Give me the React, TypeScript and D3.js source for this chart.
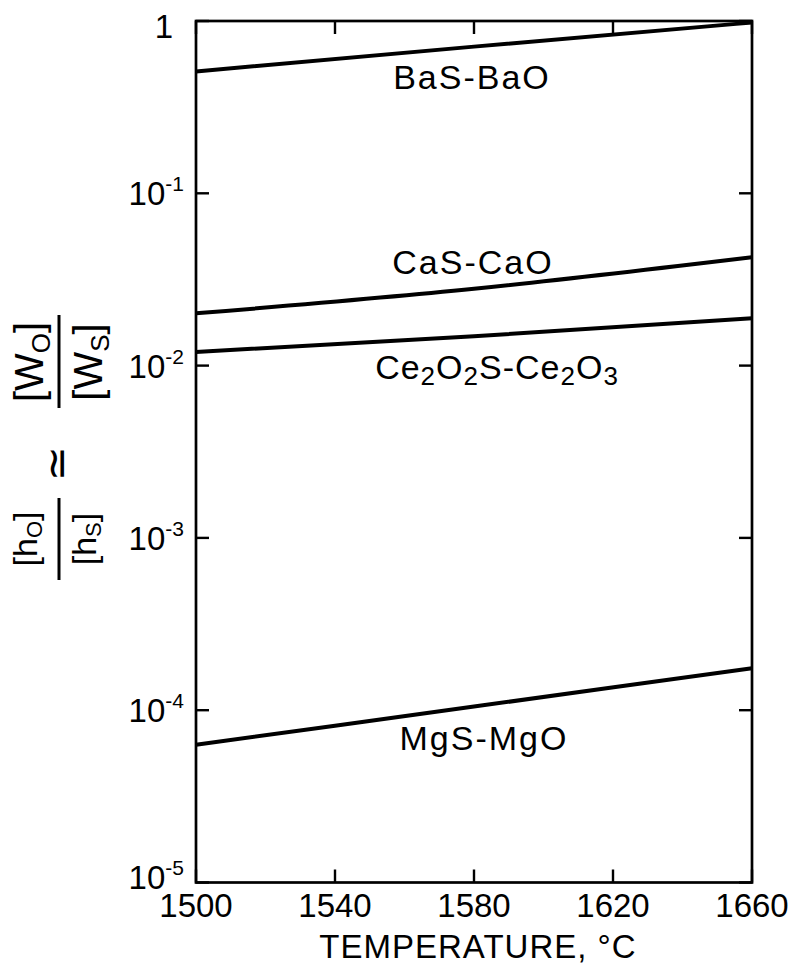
import React from "react";
import * as d3 from "d3";

const temperatures = [1500, 1580, 1660];
const basBao = [0.51, 0.71, 0.98];
const casCao = [0.0201, 0.0279, 0.0425];
const ceCe = [0.012, 0.0148, 0.0188];
const mgsMgo = [6.3e-5, 1.05e-4, 1.75e-4];

const xTicks = [1500, 1540, 1580, 1620, 1660];
const yTicks = [1, 1e-1, 1e-2, 1e-3, 1e-4, 1e-5];
const yExponents = ["", "-1", "-2", "-3", "-4", "-5"];

const W = 792;
const H = 968;
const left = 196;
const right = 752;
const top = 21;
const bottom = 882.5;
const FONT = "'Liberation Sans', Arial, sans-serif";

export default function App() {
  const x = d3.scaleLinear().domain([1500, 1660]).range([left, right]);
  const y = d3.scaleLog().domain([1e-5, 1]).range([bottom, top]);
  const line = d3
    .line<[number, number]>()
    .x((d) => x(d[0]))
    .y((d) => y(d[1]))
    .curve(d3.curveMonotoneX);
  const series = [basBao, casCao, ceCe, mgsMgo];
  const tickLen = 13;

  return (
    <svg
      width={W}
      height={H}
      style={{ position: "absolute", left: 0, top: 0, background: "#fff" }}
      fontFamily={FONT}
    >
      <rect x={0} y={0} width={W} height={H} fill="#fff" />
      {/* frame */}
      <rect
        x={left}
        y={top}
        width={right - left}
        height={bottom - top}
        fill="none"
        stroke="#000"
        strokeWidth={2.7}
      />
      {/* x ticks */}
      {xTicks.map((t) => (
        <g key={"xt" + t}>
          <line x1={x(t)} x2={x(t)} y1={bottom} y2={bottom - tickLen} stroke="#000" strokeWidth={2.4} />
          <line x1={x(t)} x2={x(t)} y1={top} y2={top + tickLen} stroke="#000" strokeWidth={2.4} />
          <text x={x(t)} y={917} textAnchor="middle" fontSize={33} fill="#000">
            {t}
          </text>
        </g>
      ))}
      {/* y ticks */}
      {yTicks.map((t, i) => {
        const yy = y(t);
        const off = i === 0 ? 17 : i === yTicks.length - 1 ? 6 : 12;
        return (
          <g key={"yt" + i}>
            <line x1={left} x2={left + tickLen} y1={yy} y2={yy} stroke="#000" strokeWidth={2.4} />
            <line x1={right} x2={right - tickLen} y1={yy} y2={yy} stroke="#000" strokeWidth={2.4} />
            {i === 0 ? (
              <text x={173} y={yy + off} textAnchor="end" fontSize={33} fill="#000">
                1
              </text>
            ) : (
              <text x={184} y={yy + off} textAnchor="end" fontSize={33} fill="#000">
                10
                <tspan fontSize={21} dy={-14}>
                  {yExponents[i]}
                </tspan>
              </text>
            )}
          </g>
        );
      })}
      {/* curves */}
      {series.map((s, i) => (
        <path
          key={"s" + i}
          d={line(temperatures.map((t, j) => [t, s[j]] as [number, number])) || ""}
          fill="none"
          stroke="#000"
          strokeWidth={4}
        />
      ))}
      {/* curve labels */}
      <text x={472} y={89} textAnchor="middle" fontSize={34} letterSpacing={2} fill="#000">
        BaS-BaO
      </text>
      <text x={473} y={274} textAnchor="middle" fontSize={34} letterSpacing={2} fill="#000">
        CaS-CaO
      </text>
      <text x={497} y={379} textAnchor="middle" fontSize={34} letterSpacing={1} fill="#000">
        Ce
        <tspan fontSize={26} dy={6}>2</tspan>
        <tspan dy={-6}>O</tspan>
        <tspan fontSize={26} dy={6}>2</tspan>
        <tspan dy={-6}>S-Ce</tspan>
        <tspan fontSize={26} dy={6}>2</tspan>
        <tspan dy={-6}>O</tspan>
        <tspan fontSize={26} dy={6}>3</tspan>
      </text>
      <text x={484} y={750} textAnchor="middle" fontSize={34} letterSpacing={2} fill="#000">
        MgS-MgO
      </text>
      {/* x title */}
      <text x={478} y={958} textAnchor="middle" fontSize={33} letterSpacing={1} fill="#000">
        TEMPERATURE, °C
      </text>
      {/* y title, rotated */}
      <g transform="translate(59,0) rotate(-90)" fill="#000">
        {/* h fraction */}
        <line x1={-580} x2={-498} y1={0} y2={0} stroke="#000" strokeWidth={3} />
        <text x={-539} y={-22} textAnchor="middle" fontSize={34}>
          [h
          <tspan fontSize={22} dy={5}>O</tspan>
          <tspan dy={-5}>]</tspan>
        </text>
        <text x={-539} y={37} textAnchor="middle" fontSize={34}>
          [h
          <tspan fontSize={22} dy={5}>S</tspan>
          <tspan dy={-5}>]</tspan>
        </text>
        {/* approx sign */}
        <text x={-464} y={-3} textAnchor="middle" dominantBaseline="central" fontSize={42} fontFamily="'DejaVu Sans', sans-serif">
          ≃
        </text>
        {/* W fraction */}
        <line x1={-408} x2={-315} y1={0} y2={0} stroke="#000" strokeWidth={3} />
        <text x={-362} y={-16} textAnchor="middle" fontSize={40}>
          [W
          <tspan fontSize={26} dy={7}>O</tspan>
          <tspan dy={-7}>]</tspan>
        </text>
        <text x={-362} y={43} textAnchor="middle" fontSize={40}>
          [W
          <tspan fontSize={26} dy={7}>S</tspan>
          <tspan dy={-7}>]</tspan>
        </text>
      </g>
    </svg>
  );
}
